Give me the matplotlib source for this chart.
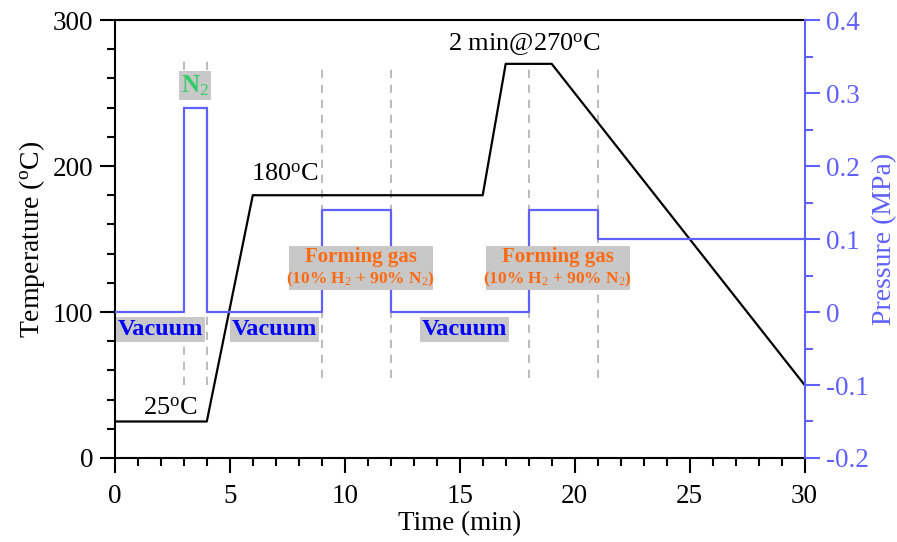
import numpy as np
import matplotlib
matplotlib.use('Agg')
import matplotlib.pyplot as plt
from matplotlib.patches import Rectangle
from matplotlib.ticker import MultipleLocator

plt.rcParams['font.family'] = ['Liberation Serif', 'DejaVu Serif']
plt.rcParams['mathtext.fontset'] = 'custom'
plt.rcParams['mathtext.rm'] = 'Liberation Serif'
plt.rcParams['mathtext.it'] = 'Liberation Serif:italic'
plt.rcParams['mathtext.bf'] = 'Liberation Serif:bold'

# temperature profile (min, degC)
t_temp = [0, 4, 6, 16, 17, 19, 30]
temp = [25, 25, 180, 180, 270, 270, 50]

# pressure profile (min, MPa), step changes
t_press = [0, 3, 4, 9, 12, 18, 21, 30]
press = [0, 0.28, 0, 0.14, 0, 0.14, 0.1, 0.1]

# gas switching times
t_switch = [3, 4, 9, 12, 18, 21]

blue = '#6060ff'
orange = '#ff6a10'
green = '#33cc66'
gray_box = '#c8c8c8'
fs = 19.5

fig = plt.figure(figsize=(8.97, 5.42), dpi=100)
ax = fig.add_axes([0.128, 0.155, 0.769, 0.808])
ax2 = ax.twinx()

# dashed marker lines
for i, x in enumerate(t_switch):
    y0, y1 = (50, 276) if i < 2 else (55, 269)
    ax.plot([x, x], [y0, y1], color='#b0b0b0', lw=1.2, ls=(0, (5, 4)), zorder=1)

ax.plot(t_temp, temp, color='black', lw=1.6, zorder=3)
ax2.step(t_press, press, where='post', color=blue, lw=1.6, zorder=2)

ax.set_xlim(0, 30)
ax.set_ylim(0, 300)
ax2.set_ylim(-0.2, 0.4)

ax.xaxis.set_major_locator(MultipleLocator(5))
ax.xaxis.set_minor_locator(MultipleLocator(1))
ax.yaxis.set_major_locator(MultipleLocator(100))
ax.yaxis.set_minor_locator(MultipleLocator(20))
ax2.yaxis.set_major_locator(MultipleLocator(0.1))
ax2.yaxis.set_minor_locator(MultipleLocator(0.05))

ax.tick_params(which='both', direction='out', width=1.5, labelsize=fs, colors='black')
ax.tick_params(which='major', length=10.5)
ax.tick_params(which='minor', length=6)
ax.tick_params(axis='y', which='both', right=False, pad=5)
ax.tick_params(axis='x', which='both', pad=8)
ax2.tick_params(which='both', direction='out', width=1.5, labelsize=fs, colors=blue, pad=5)
ax2.tick_params(which='major', length=10.5)
ax2.tick_params(which='minor', length=6)

ax2.yaxis.set_major_formatter(plt.FuncFormatter(lambda v, p: '0' if abs(v) < 1e-9 else ('%.1f' % v)))

for s in ax.spines.values():
    s.set_linewidth(1.5)
for k in ['left', 'top', 'bottom']:
    ax2.spines[k].set_visible(False)
ax2.spines['right'].set_color(blue)
ax2.spines['right'].set_linewidth(1.5)
ax.spines['right'].set_visible(False)

ax.set_xlabel('Time (min)', fontsize=fs, labelpad=2)
ax.set_ylabel(r'Temperature ($^{\rm o}$C)', fontsize=20, labelpad=4)
ax2.set_ylabel('Pressure (MPa)', fontsize=20, color=blue, labelpad=2)

# temperature annotations
ax.text(2.4, 34, r'25$^{\rm o}$C', fontsize=19, ha='center', va='center')
ax.text(7.4, 194, r'180$^{\rm o}$C', fontsize=19, ha='center', va='center')
ax.text(17.8, 283, r'2 min@270$^{\rm o}$C', fontsize=19, ha='center', va='center')

box = dict(boxstyle='square,pad=0.08', fc=gray_box, ec='none')
tr = ax.transData
ax2.text(3.5, 255, r'N$_2$', fontsize=18, fontweight='bold', color=green,
         ha='center', va='center', transform=tr, bbox=box, zorder=5)
for xv in [2.0, 6.95, 15.2]:
    ax2.text(xv, 88, 'Vacuum', fontsize=17.5, fontweight='bold', color='blue',
             ha='center', va='center', transform=tr, bbox=box, zorder=5)

# forming gas boxes: (left, right) in minutes
fg_x0 = [7.57, 16.13]
fg_x1 = [13.83, 22.4]
for x0, x1 in zip(fg_x0, fg_x1):
    ax2.add_patch(Rectangle((x0, 115), x1 - x0, 30, transform=tr, fc=gray_box, ec='none', zorder=4))
    xc = (x0 + x1) / 2
    ax2.text(xc, 137.5, 'Forming gas', fontsize=15, fontweight='bold', color=orange,
             ha='center', va='center', transform=tr, zorder=6)
    ax2.text(xc, 122.5, r'(10% H$_2$ + 90% N$_2$)', fontsize=12.5, fontweight='bold',
             color=orange, ha='center', va='center', transform=tr, zorder=6)

fig.savefig('out.png', dpi=100)
